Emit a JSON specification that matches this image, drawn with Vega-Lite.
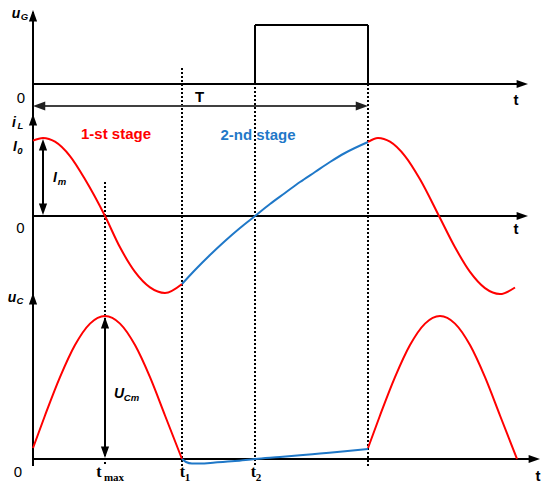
{
  "$schema": "https://vega.github.io/schema/vega-lite/v6.json",
  "width": 550,
  "height": 489,
  "autosize": {"type": "fit", "contains": "padding"},
  "padding": 0,
  "background": "white",
  "config": {"view": {"stroke": null}},
  "datasets": {
    "axes": [
      {"x": 33, "y": 12, "x2": 33, "y2": 466},
      {"x": 33, "y": 84, "x2": 522, "y2": 84},
      {"x": 33, "y": 216, "x2": 522, "y2": 216},
      {"x": 33, "y": 459, "x2": 534, "y2": 459},
      {"x": 255, "y": 84, "x2": 255, "y2": 25},
      {"x": 255, "y": 25, "x2": 368, "y2": 25},
      {"x": 368, "y": 25, "x2": 368, "y2": 84},
      {"x": 43, "y": 144, "x2": 43, "y2": 210},
      {"x": 105, "y": 322, "x2": 105, "y2": 453}
    ],
    "period": [
      {"x": 38, "y": 106, "x2": 363, "y2": 106}
    ],
    "dotted": [
      {"x": 105, "y": 182, "y2": 466},
      {"x": 182, "y": 68, "y2": 466},
      {"x": 255, "y": 67, "y2": 466},
      {"x": 368, "y": 84, "y2": 466}
    ],
    "heads": [
      {"x": 528, "y": 84, "dir": "right"},
      {"x": 528, "y": 216, "dir": "right"},
      {"x": 540, "y": 459, "dir": "right"},
      {"x": 33, "y": 10, "dir": "up"},
      {"x": 33, "y": 114, "dir": "up"},
      {"x": 33, "y": 293, "dir": "up"},
      {"x": 43, "y": 139, "dir": "up"},
      {"x": 43, "y": 215, "dir": "down"},
      {"x": 105, "y": 317, "dir": "up"},
      {"x": 105, "y": 458, "dir": "down"}
    ],
    "periodHeads": [
      {"x": 33, "y": 106, "dir": "left"},
      {"x": 368, "y": 106, "dir": "right"}
    ],
    "curves": [
      {"series": "iL1", "stage": "1-st stage", "x": 33, "y": 140.6},
      {"series": "iL1", "stage": "1-st stage", "x": 43, "y": 138},
      {"series": "iL1", "stage": "1-st stage", "x": 55, "y": 141.7},
      {"series": "iL1", "stage": "1-st stage", "x": 70, "y": 156.1},
      {"series": "iL1", "stage": "1-st stage", "x": 85, "y": 179.3},
      {"series": "iL1", "stage": "1-st stage", "x": 105, "y": 216},
      {"series": "iL1", "stage": "1-st stage", "x": 120, "y": 247.3},
      {"series": "iL1", "stage": "1-st stage", "x": 135, "y": 271.9},
      {"series": "iL1", "stage": "1-st stage", "x": 150, "y": 287.4},
      {"series": "iL1", "stage": "1-st stage", "x": 165, "y": 293},
      {"series": "iL1", "stage": "1-st stage", "x": 182, "y": 284},
      {"series": "iL2", "stage": "2-nd stage", "x": 182, "y": 284},
      {"series": "iL2", "stage": "2-nd stage", "x": 195, "y": 270},
      {"series": "iL2", "stage": "2-nd stage", "x": 210, "y": 255},
      {"series": "iL2", "stage": "2-nd stage", "x": 225, "y": 241},
      {"series": "iL2", "stage": "2-nd stage", "x": 240, "y": 228},
      {"series": "iL2", "stage": "2-nd stage", "x": 255, "y": 216},
      {"series": "iL2", "stage": "2-nd stage", "x": 270, "y": 204},
      {"series": "iL2", "stage": "2-nd stage", "x": 285, "y": 193},
      {"series": "iL2", "stage": "2-nd stage", "x": 300, "y": 182},
      {"series": "iL2", "stage": "2-nd stage", "x": 315, "y": 172},
      {"series": "iL2", "stage": "2-nd stage", "x": 330, "y": 162},
      {"series": "iL2", "stage": "2-nd stage", "x": 345, "y": 153},
      {"series": "iL2", "stage": "2-nd stage", "x": 368, "y": 142},
      {"series": "iL3", "stage": "1-st stage", "x": 368, "y": 142},
      {"series": "iL3", "stage": "1-st stage", "x": 378, "y": 138},
      {"series": "iL3", "stage": "1-st stage", "x": 390, "y": 141.7},
      {"series": "iL3", "stage": "1-st stage", "x": 405, "y": 156.1},
      {"series": "iL3", "stage": "1-st stage", "x": 420, "y": 179.3},
      {"series": "iL3", "stage": "1-st stage", "x": 439, "y": 216},
      {"series": "iL3", "stage": "1-st stage", "x": 455, "y": 247.3},
      {"series": "iL3", "stage": "1-st stage", "x": 470, "y": 271.9},
      {"series": "iL3", "stage": "1-st stage", "x": 485, "y": 288.1},
      {"series": "iL3", "stage": "1-st stage", "x": 500, "y": 294},
      {"series": "iL3", "stage": "1-st stage", "x": 515, "y": 287.5},
      {"series": "uC1", "stage": "1-st stage", "x": 33, "y": 448},
      {"series": "uC1", "stage": "1-st stage", "x": 45, "y": 415.5},
      {"series": "uC1", "stage": "1-st stage", "x": 60, "y": 377.2},
      {"series": "uC1", "stage": "1-st stage", "x": 75, "y": 345.1},
      {"series": "uC1", "stage": "1-st stage", "x": 90, "y": 323.6},
      {"series": "uC1", "stage": "1-st stage", "x": 105, "y": 316},
      {"series": "uC1", "stage": "1-st stage", "x": 120, "y": 323.6},
      {"series": "uC1", "stage": "1-st stage", "x": 135, "y": 345.1},
      {"series": "uC1", "stage": "1-st stage", "x": 150, "y": 377.2},
      {"series": "uC1", "stage": "1-st stage", "x": 165, "y": 415.5},
      {"series": "uC1", "stage": "1-st stage", "x": 182, "y": 459},
      {"series": "uC2", "stage": "2-nd stage", "x": 182, "y": 459},
      {"series": "uC2", "stage": "2-nd stage", "x": 186, "y": 462},
      {"series": "uC2", "stage": "2-nd stage", "x": 192, "y": 463.5},
      {"series": "uC2", "stage": "2-nd stage", "x": 200, "y": 463.5},
      {"series": "uC2", "stage": "2-nd stage", "x": 215, "y": 462.5},
      {"series": "uC2", "stage": "2-nd stage", "x": 235, "y": 461},
      {"series": "uC2", "stage": "2-nd stage", "x": 255, "y": 459},
      {"series": "uC2", "stage": "2-nd stage", "x": 280, "y": 457},
      {"series": "uC2", "stage": "2-nd stage", "x": 300, "y": 455.3},
      {"series": "uC2", "stage": "2-nd stage", "x": 320, "y": 453.5},
      {"series": "uC2", "stage": "2-nd stage", "x": 345, "y": 451.3},
      {"series": "uC2", "stage": "2-nd stage", "x": 368, "y": 449},
      {"series": "uC3", "stage": "1-st stage", "x": 368, "y": 448},
      {"series": "uC3", "stage": "1-st stage", "x": 380, "y": 415.5},
      {"series": "uC3", "stage": "1-st stage", "x": 395, "y": 377.2},
      {"series": "uC3", "stage": "1-st stage", "x": 410, "y": 345.1},
      {"series": "uC3", "stage": "1-st stage", "x": 425, "y": 323.6},
      {"series": "uC3", "stage": "1-st stage", "x": 440, "y": 316},
      {"series": "uC3", "stage": "1-st stage", "x": 455, "y": 323.6},
      {"series": "uC3", "stage": "1-st stage", "x": 470, "y": 345.1},
      {"series": "uC3", "stage": "1-st stage", "x": 485, "y": 377.2},
      {"series": "uC3", "stage": "1-st stage", "x": 500, "y": 415.5},
      {"series": "uC3", "stage": "1-st stage", "x": 517, "y": 459}
    ],
    "stages": [
      {"stage": "1-st stage", "x": 116, "y": 139},
      {"stage": "2-nd stage", "x": 258, "y": 140}
    ],
    "symbols": [
      {"label": "u", "x": 16, "y": 18},
      {"label": "i", "x": 14, "y": 127},
      {"label": "I", "x": 15, "y": 151},
      {"label": "u", "x": 12, "y": 302},
      {"label": "I", "x": 55, "y": 182},
      {"label": "U", "x": 119, "y": 398}
    ],
    "subs": [
      {"label": "G", "x": 24.5, "y": 20},
      {"label": "L", "x": 20.5, "y": 128.5},
      {"label": "0", "x": 20, "y": 153.5},
      {"label": "C", "x": 20, "y": 304},
      {"label": "m", "x": 62, "y": 184.5},
      {"label": "Cm", "x": 131.5, "y": 400.5}
    ],
    "zeros": [
      {"label": "0", "x": 21, "y": 103},
      {"label": "0", "x": 20.5, "y": 233},
      {"label": "0", "x": 18, "y": 477}
    ],
    "tlabels": [
      {"label": "t", "x": 516, "y": 105},
      {"label": "t", "x": 516, "y": 234},
      {"label": "t", "x": 538, "y": 481},
      {"label": "T", "x": 199.5, "y": 102}
    ],
    "times": [
      {"label": "t", "x": 99, "y": 477},
      {"label": "t", "x": 182.5, "y": 477},
      {"label": "t", "x": 253.5, "y": 477}
    ],
    "timeSubs": [
      {"label": "max", "x": 114, "y": 481},
      {"label": "1", "x": 187.5, "y": 481},
      {"label": "2", "x": 258.5, "y": 481}
    ]
  },
  "encoding": {
    "x": {"field": "x", "type": "quantitative", "scale": {"domain": [0, 550], "nice": false, "zero": false}, "axis": null},
    "y": {"field": "y", "type": "quantitative", "scale": {"domain": [0, 489], "nice": false, "zero": false, "reverse": true}, "axis": null}
  },
  "layer": [
    {
      "data": {"name": "dotted"},
      "mark": {"type": "rule", "color": "black", "strokeWidth": 2, "strokeDash": [2, 2]},
      "encoding": {"y2": {"field": "y2"}}
    },
    {
      "data": {"name": "axes"},
      "mark": {"type": "rule", "color": "black", "strokeWidth": 2},
      "encoding": {"x2": {"field": "x2"}, "y2": {"field": "y2"}}
    },
    {
      "data": {"name": "period"},
      "mark": {"type": "rule", "color": "#404040", "strokeWidth": 2},
      "encoding": {"x2": {"field": "x2"}, "y2": {"field": "y2"}}
    },
    {
      "data": {"name": "curves"},
      "mark": {"type": "line", "strokeWidth": 2, "interpolate": "monotone"},
      "encoding": {
        "color": {"field": "stage", "type": "nominal", "scale": {"domain": ["1-st stage", "2-nd stage"], "range": ["#ff0000", "#1f78c8"]}, "legend": null},
        "detail": {"field": "series"}
      }
    },
    {
      "data": {"name": "heads"},
      "mark": {"type": "point", "filled": true, "color": "black", "opacity": 1, "size": 520},
      "encoding": {
        "shape": {"field": "dir", "type": "nominal", "legend": null,
          "scale": {"domain": ["right", "left", "up", "down"],
            "range": ["M0,0L-1,-0.36L-1,0.36Z", "M0,0L1,-0.36L1,0.36Z", "M0,0L-0.36,1L0.36,1Z", "M0,0L-0.36,-1L0.36,-1Z"]}}
      }
    },
    {
      "data": {"name": "periodHeads"},
      "mark": {"type": "point", "filled": true, "color": "#202020", "opacity": 1, "size": 600},
      "encoding": {
        "shape": {"field": "dir", "type": "nominal", "legend": null,
          "scale": {"domain": ["right", "left", "up", "down"],
            "range": ["M0,0L-1,-0.3L-1,0.3Z", "M0,0L1,-0.3L1,0.3Z", "M0,0L-0.3,1L0.3,1Z", "M0,0L-0.3,-1L0.3,-1Z"]}}
      }
    },
    {
      "data": {"name": "stages"},
      "mark": {"type": "text", "font": "Liberation Sans", "fontWeight": "bold", "fontSize": 15, "align": "center", "baseline": "alphabetic"},
      "encoding": {
        "text": {"field": "stage"},
        "color": {"field": "stage", "type": "nominal", "scale": {"domain": ["1-st stage", "2-nd stage"], "range": ["#ff0000", "#1f78c8"]}, "legend": null}
      }
    },
    {
      "data": {"name": "symbols"},
      "mark": {"type": "text", "font": "Liberation Sans", "fontWeight": "bold", "fontStyle": "italic", "fontSize": 14, "align": "center", "baseline": "alphabetic", "color": "black"},
      "encoding": {"text": {"field": "label"}}
    },
    {
      "data": {"name": "subs"},
      "mark": {"type": "text", "font": "Liberation Sans", "fontWeight": "bold", "fontStyle": "italic", "fontSize": 9.5, "align": "center", "baseline": "alphabetic", "color": "black"},
      "encoding": {"text": {"field": "label"}}
    },
    {
      "data": {"name": "zeros"},
      "mark": {"type": "text", "font": "Liberation Sans", "fontSize": 15, "align": "center", "baseline": "alphabetic", "color": "black"},
      "encoding": {"text": {"field": "label"}}
    },
    {
      "data": {"name": "tlabels"},
      "mark": {"type": "text", "font": "Liberation Sans", "fontWeight": "bold", "fontSize": 15, "align": "center", "baseline": "alphabetic", "color": "black"},
      "encoding": {"text": {"field": "label"}}
    },
    {
      "data": {"name": "times"},
      "mark": {"type": "text", "font": "Liberation Serif", "fontWeight": "bold", "fontSize": 16, "align": "center", "baseline": "alphabetic", "color": "black"},
      "encoding": {"text": {"field": "label"}}
    },
    {
      "data": {"name": "timeSubs"},
      "mark": {"type": "text", "font": "Liberation Serif", "fontWeight": "bold", "fontSize": 11, "align": "center", "baseline": "alphabetic", "color": "black"},
      "encoding": {"text": {"field": "label"}}
    }
  ]
}
